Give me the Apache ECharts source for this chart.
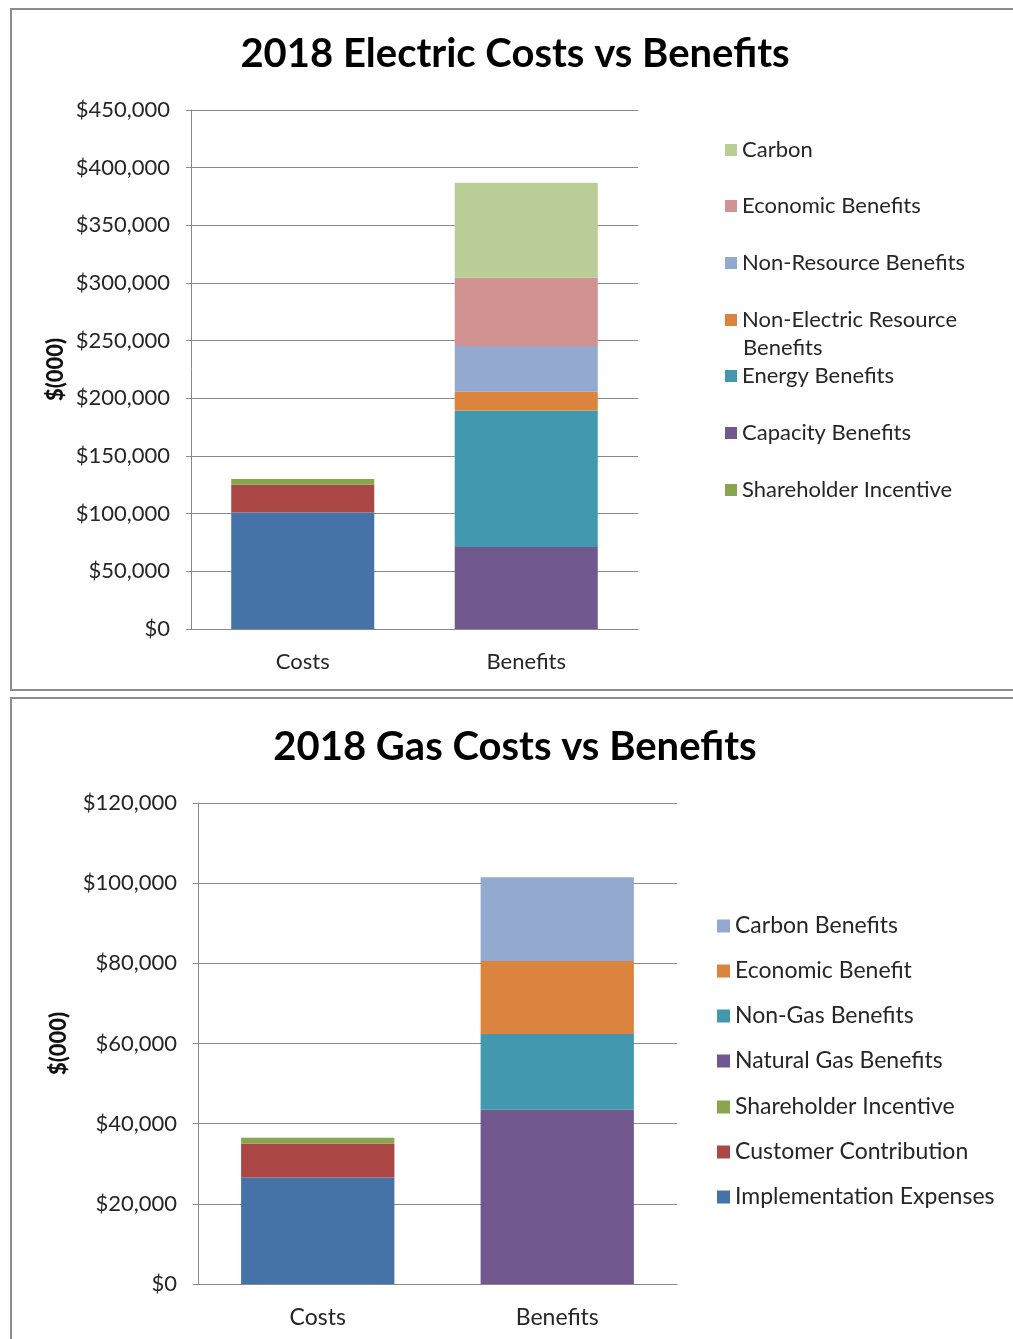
<!DOCTYPE html>
<html>
<head>
<meta charset="utf-8">
<script src="https://cdn.jsdelivr.net/npm/echarts@6/dist/echarts.min.js"></script>
<style>
  html, body { margin: 0; padding: 0; background: #ffffff; }
  body { width: 1013px; height: 1339px; position: relative; overflow: hidden; }
  .panel { position: absolute; box-sizing: border-box; border: 2px solid #8c8c8c; background: #fff; }
  #elec { left: 10px; top: 8px; width: 1010px; height: 683px; }
  #gas { left: 10px; top: 697px; width: 1010px; height: 660px; }
</style>
</head>
<body>
<div id="elec" class="panel"></div>
<div id="gas" class="panel"></div>
<script>
// ---- Data ($000) ----
const categories = ['Costs', 'Benefits'];

// Electric program
const elecImplementationExpenses = [101000, null];
const elecCustomerContribution   = [24000, null];
const elecShareholderIncentive   = [5000, null];
const elecCapacityBenefits       = [null, 71000];
const elecEnergyBenefits         = [null, 118500];
const elecNonElectricResource    = [null, 16300];
const elecNonResourceBenefits    = [null, 39600];
const elecEconomicBenefits       = [null, 59200];
const elecCarbon                 = [null, 82400];
const elecLegendNames = ['Carbon', 'Economic Benefits', 'Non-Resource Benefits',
  'Non-Electric Resource Benefits', 'Energy Benefits', 'Capacity Benefits', 'Shareholder Incentive'];

// Gas program
const gasImplementationExpenses = [26600, null];
const gasCustomerContribution   = [8400, null];
const gasShareholderIncentive   = [1500, null];
const gasNaturalGasBenefits     = [null, 43500];
const gasNonGasBenefits         = [null, 18900];
const gasEconomicBenefit        = [null, 18200];
const gasCarbonBenefits         = [null, 20900];
const gasLegendNames = ['Carbon Benefits', 'Economic Benefit', 'Non-Gas Benefits',
  'Natural Gas Benefits', 'Shareholder Incentive', 'Customer Contribution', 'Implementation Expenses'];

// ---- Styling ----
const FONT = 'Lato, "Open Sans", sans-serif';
const TXT = '#262626';
const GRIDC = '#8a8a8a';
const C = {
  blue: '#4572A7', red: '#AA4643', green: '#89A54E', purple: '#71588F',
  teal: '#4198AF', orange: '#DB843D', lblue: '#93A9CF', pink: '#D19392', lgreen: '#B9CD96'
};

function money(v) { return '$' + v.toLocaleString('en-US'); }

function bar(name, data, color) {
  return {
    name, type: 'bar', stack: 'total', data, barWidth: '64%',
    itemStyle: { color }, emphasis: { disabled: true }, animation: false
  };
}

// One legend component per entry so each row sits at its own height.
// A long entry wraps: its first line stays beside the swatch, the rest goes below.
const WRAP = { 'Non-Electric Resource Benefits': ['Non-Electric Resource', 'Benefits'] };

function legends(names, left, centers, fontSize, iconSize) {
  return names.map((n, i) => ({
    data: [n], orient: 'vertical', left, top: centers[i] - fontSize / 2,
    icon: 'rect', itemWidth: iconSize, itemHeight: iconSize, itemGap: 0, padding: 0,
    selectedMode: false,
    formatter: WRAP[n] ? WRAP[n][0] : '{name}',
    textStyle: { fontFamily: FONT, fontSize, color: TXT }
  }));
}

function wrapTexts(names, textLeft, centers, fontSize, lineGap) {
  const out = [];
  names.forEach((n, i) => {
    if (!WRAP[n]) return;
    WRAP[n].slice(1).forEach((line, k) => {
      out.push({
        type: 'text', left: textLeft, top: centers[i] - fontSize / 2 + lineGap * (k + 1),
        style: { text: line, fontFamily: FONT, fontSize, fill: TXT }
      });
    });
  });
  return out;
}

function axes(max, interval, nameGap, labelMargin, xMargin, fs) {
  return {
    xAxis: {
      type: 'category', data: categories,
      axisLine: { lineStyle: { color: GRIDC, width: 1 } },
      axisTick: { show: false },
      axisLabel: { fontFamily: FONT, fontSize: fs, color: TXT, margin: xMargin }
    },
    yAxis: {
      type: 'value', min: 0, max, interval,
      name: '$(000)', nameLocation: 'middle', nameGap, nameRotate: 90,
      nameTextStyle: { fontFamily: FONT, fontSize: 22, fontWeight: 900, color: '#111' },
      axisLine: { show: true, lineStyle: { color: GRIDC, width: 1 } },
      axisTick: { show: true, length: 5, lineStyle: { color: GRIDC } },
      splitLine: { lineStyle: { color: GRIDC, width: 1 } },
      axisLabel: { fontFamily: FONT, fontSize: 22, color: TXT, margin: labelMargin, formatter: money }
    }
  };
}

// ---- Electric chart ----
const elecChart = echarts.init(document.getElementById('elec'), null, { renderer: 'canvas' });
const ea = axes(450000, 50000, 124, 21, 22, 22);
const elecCenters = [140, 196, 253, 310, 366, 423, 480];
elecChart.setOption({
  animation: false,
  title: {
    text: '2018 Electric Costs vs Benefits', left: 'center', top: 19,
    textStyle: { fontFamily: FONT, fontSize: 40, fontWeight: 'bold', color: '#000' }
  },
  grid: { left: 179, top: 100, width: 447, height: 519 },
  xAxis: ea.xAxis, yAxis: ea.yAxis,
  legend: legends(elecLegendNames, 713, elecCenters, 22, 12),
  graphic: wrapTexts(elecLegendNames, 731, elecCenters, 22, 28),
  series: [
    bar('Implementation Expenses', elecImplementationExpenses, C.blue),
    bar('Customer Contribution', elecCustomerContribution, C.red),
    bar('Shareholder Incentive', elecShareholderIncentive, C.green),
    bar('Capacity Benefits', elecCapacityBenefits, C.purple),
    bar('Energy Benefits', elecEnergyBenefits, C.teal),
    bar('Non-Electric Resource Benefits', elecNonElectricResource, C.orange),
    bar('Non-Resource Benefits', elecNonResourceBenefits, C.lblue),
    bar('Economic Benefits', elecEconomicBenefits, C.pink),
    bar('Carbon', elecCarbon, C.lgreen)
  ]
});

// ---- Gas chart ----
const gasChart = echarts.init(document.getElementById('gas'), null, { renderer: 'canvas' });
const ga = axes(120000, 20000, 128, 21, 22, 23);
gasChart.setOption({
  animation: false,
  title: {
    text: '2018 Gas Costs vs Benefits', left: 'center', top: 23,
    textStyle: { fontFamily: FONT, fontSize: 40, fontWeight: 'bold', color: '#000' }
  },
  grid: { left: 186, top: 104, width: 479, height: 481 },
  xAxis: ga.xAxis, yAxis: ga.yAxis,
  legend: legends(gasLegendNames, 705, [227, 272, 317, 362, 408, 453, 498], 23, 13),
  series: [
    bar('Implementation Expenses', gasImplementationExpenses, C.blue),
    bar('Customer Contribution', gasCustomerContribution, C.red),
    bar('Shareholder Incentive', gasShareholderIncentive, C.green),
    bar('Natural Gas Benefits', gasNaturalGasBenefits, C.purple),
    bar('Non-Gas Benefits', gasNonGasBenefits, C.teal),
    bar('Economic Benefit', gasEconomicBenefit, C.orange),
    bar('Carbon Benefits', gasCarbonBenefits, C.lblue)
  ]
});
</script>
</body>
</html>
